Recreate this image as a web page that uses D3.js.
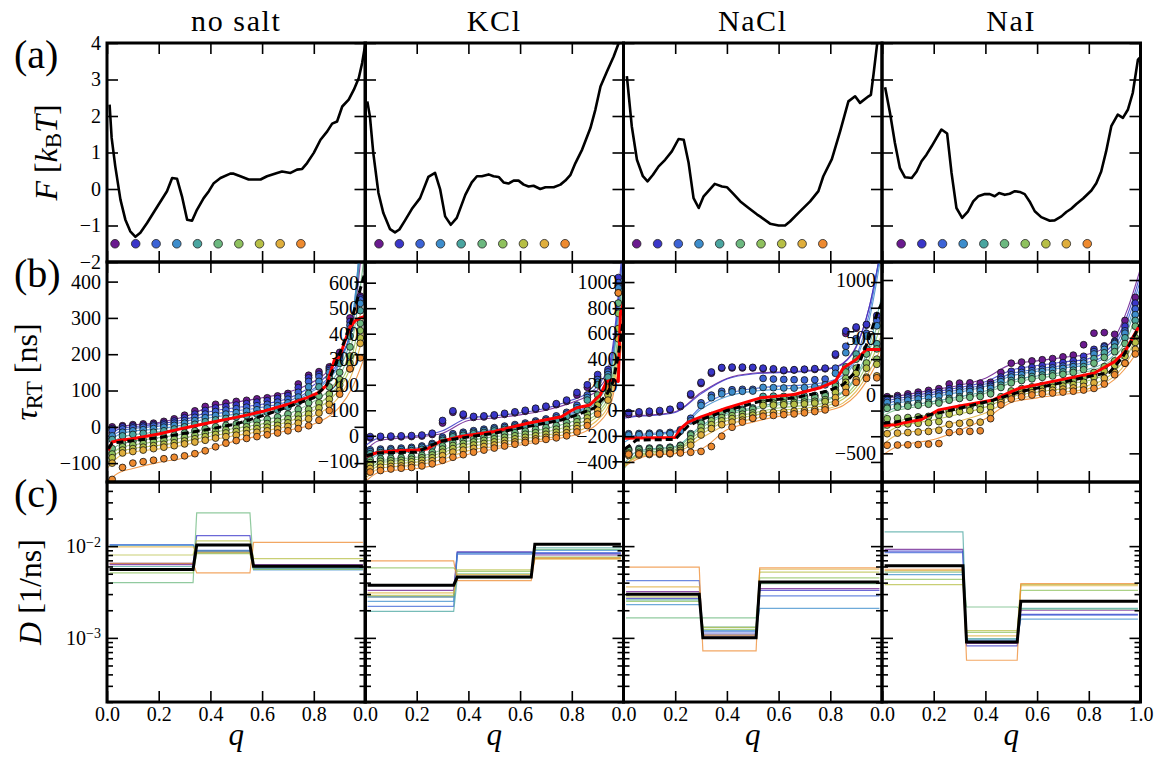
<!DOCTYPE html>
<html><head><meta charset="utf-8">
<script src="https://cdn.jsdelivr.net/npm/d3@7"></script>
<style>
body{margin:0;background:#fff;}
svg{display:block;}
svg text, svg tspan{font-family:"Liberation Serif", serif;}
</style></head><body>
<svg id="fig" width="1160" height="760"></svg>
<script>
// ---------- categories and colours ----------
const saltNames = ["no salt", "KCl", "NaCl", "NaI"];
const seriesColors = ["#6a1a8f", "#3a36c9", "#3c63d6", "#3d8dcc", "#4aa5a0",
                      "#6cb87f", "#8fc15e", "#b7bf45", "#dfae3c", "#ee8a2f"];
const qTicks = [0, 0.2, 0.4, 0.6, 0.8, 1.0];

// ---------- (a) free energy profiles F(q) [kBT] ----------
const fDomain = [-2, 4];
const fTicks = [-2, -1, 0, 1, 2, 3, 4];
const startLevel = -1.5;

const fQ_noSalt = [0.010,0.018,0.032,0.052,0.071,0.090,0.110,0.129,0.155,0.187,0.232,0.252,0.271,0.290,0.310,0.329,0.348,0.374,0.394,0.413,0.439,0.477,0.490,0.516,0.548,0.568,0.594,0.619,0.658,0.677,0.710,0.735,0.755,0.774,0.800,0.826,0.852,0.871,0.890,0.910,0.935,0.955,0.974,0.987,1.000];
const fV_noSalt = [2.31,1.40,0.62,-0.29,-0.84,-1.16,-1.31,-1.20,-0.93,-0.57,-0.06,0.30,0.28,-0.20,-0.84,-0.87,-0.57,-0.25,-0.06,0.16,0.30,0.42,0.42,0.35,0.26,0.26,0.26,0.35,0.44,0.48,0.44,0.53,0.55,0.71,0.99,1.35,1.58,1.79,1.85,2.26,2.45,2.72,3.04,3.45,4.00];

const fQ_KCl = [0.009,0.019,0.032,0.052,0.071,0.097,0.116,0.133,0.155,0.181,0.213,0.245,0.271,0.291,0.310,0.332,0.355,0.388,0.413,0.433,0.452,0.478,0.497,0.517,0.536,0.555,0.575,0.594,0.614,0.633,0.652,0.678,0.698,0.730,0.756,0.775,0.795,0.814,0.840,0.872,0.891,0.911,0.936,0.962,0.979,0.990];
const fV_KCl = [2.40,1.99,0.99,-0.11,-0.66,-1.10,-1.19,-1.11,-0.86,-0.55,-0.25,0.33,0.44,-0.02,-0.75,-0.98,-0.79,-0.16,0.18,0.35,0.35,0.40,0.35,0.33,0.18,0.15,0.23,0.23,0.12,0.07,0.09,0.00,0.05,0.05,0.12,0.23,0.39,0.71,1.08,1.67,2.17,2.81,3.22,3.63,3.95,4.20];

const fQ_NaCl = [0.013,0.032,0.052,0.075,0.093,0.114,0.136,0.161,0.187,0.213,0.233,0.252,0.271,0.291,0.310,0.329,0.353,0.381,0.400,0.426,0.452,0.484,0.517,0.528,0.567,0.600,0.625,0.644,0.676,0.722,0.754,0.773,0.806,0.838,0.870,0.896,0.915,0.948,0.957,0.967,0.985];
const fV_NaCl = [3.09,1.72,0.80,0.35,0.21,0.39,0.62,0.80,1.03,1.37,1.35,0.71,-0.25,-0.52,-0.20,-0.05,0.14,0.07,0.05,-0.14,-0.34,-0.52,-0.70,-0.75,-0.95,-1.00,-1.00,-0.89,-0.66,-0.34,-0.06,0.35,0.82,1.58,2.40,2.54,2.36,2.54,2.58,3.13,4.20];

const fQ_NaI = [0.012,0.031,0.050,0.069,0.089,0.115,0.134,0.153,0.172,0.192,0.211,0.230,0.252,0.269,0.288,0.310,0.333,0.353,0.372,0.398,0.417,0.436,0.453,0.475,0.494,0.514,0.533,0.552,0.571,0.591,0.616,0.649,0.668,0.694,0.713,0.732,0.752,0.778,0.810,0.829,0.848,0.867,0.887,0.912,0.932,0.951,0.970,0.990,0.996];
const fV_NaI = [2.79,2.08,1.26,0.58,0.32,0.30,0.48,0.76,0.94,1.17,1.40,1.63,1.52,0.44,-0.52,-0.79,-0.61,-0.34,-0.20,-0.14,-0.14,-0.20,-0.11,-0.16,-0.13,-0.06,-0.08,-0.14,-0.34,-0.61,-0.77,-0.87,-0.86,-0.75,-0.63,-0.54,-0.41,-0.26,-0.04,0.16,0.48,1.03,1.72,2.04,1.95,2.17,2.63,3.54,3.59];

// starting positions of the ten runs
const start_noSalt = [0.031,0.111,0.190,0.270,0.350,0.430,0.510,0.590,0.670,0.750];
const start_KCl    = [0.054,0.133,0.213,0.292,0.372,0.453,0.533,0.613,0.694,0.774];
const start_NaCl   = [0.051,0.132,0.212,0.292,0.372,0.452,0.532,0.612,0.691,0.771];
const start_NaI    = [0.074,0.154,0.234,0.314,0.394,0.474,0.554,0.634,0.713,0.794];

// ---------- (b) round-trip times tau_RT [ns] ----------
const tauQ = [0.02,0.06,0.10,0.14,0.18,0.22,0.26,0.30,0.34,0.38,0.42,0.46,0.50,0.54,0.58,0.62,0.66,0.70,0.74,0.78,0.82,0.86,0.90,0.94,0.98];
const fitQ = [0,0.05,0.1,0.2,0.3,0.4,0.5,0.6,0.7,0.8,0.85,0.9,0.95,1.0];

const tauDomain_noSalt = [-152, 454];
const tauTicks_noSalt = [-100, 0, 100, 200, 300, 400];
const tau_noSalt = [
 [0,3,6,8,10,15,22,32,44,56,62,66,70,73,77,80,85,92,118,142,152,165,205,300,360],
 [-5,0,2,4,6,10,16,25,35,45,52,56,60,64,68,72,78,86,108,135,145,160,195,290,355],
 [-10,-6,-3,-1,2,5,10,17,26,35,42,46,50,54,58,62,68,76,95,125,138,155,190,280,350],
 [-25,-15,-11,-8,-5,-1,4,10,17,25,31,35,39,43,47,52,58,66,82,110,125,150,185,270,340],
 [-35,-25,-21,-18,-15,-11,-6,0,7,14,19,23,27,31,35,40,46,54,68,92,110,135,175,250,320],
 [-60,-45,-40,-36,-32,-28,-23,-17,-11,-5,0,4,8,12,16,21,27,35,48,66,85,110,150,220,285],
 [-75,-55,-50,-46,-42,-38,-34,-29,-23,-17,-12,-8,-4,0,4,9,15,22,33,48,66,90,130,195,265],
 [-85,-64,-60,-56,-52,-48,-44,-39,-33,-27,-21,-17,-13,-9,-5,-1,4,11,21,35,52,76,115,175,245],
 [-100,-72,-68,-64,-60,-56,-52,-47,-42,-37,-31,-27,-23,-19,-15,-11,-6,1,10,22,38,62,100,160,230],
 [-145,-112,-100,-96,-92,-88,-84,-80,-74,-66,-55,-45,-38,-32,-27,-22,-17,-11,-5,3,18,45,90,160,190]
];
const fit_noSalt = [
 [-20,0,5,12,28,55,68,80,95,125,150,190,280,600],
 [-30,-5,0,8,20,42,53,62,78,115,140,185,290,650],
 [-35,-12,-5,2,14,33,44,54,70,105,130,180,300,700],
 [-45,-20,-12,-6,6,25,35,45,62,100,125,175,300,700],
 [-55,-30,-22,-14,-3,13,24,35,52,90,115,160,280,650],
 [-75,-48,-40,-30,-19,-4,7,18,35,70,95,140,240,500],
 [-90,-58,-50,-40,-30,-16,-4,8,24,55,80,120,200,400],
 [-100,-68,-60,-51,-40,-26,-14,-2,14,45,68,105,180,330],
 [-115,-80,-70,-61,-50,-36,-24,-12,2,30,50,85,150,280],
 [-150,-125,-115,-98,-85,-60,-38,-24,-10,8,25,55,110,200]
];
const redQ_noSalt = [0.005,0.02,0.05,0.1,0.2,0.3,0.4,0.5,0.6,0.7,0.78,0.82,0.85,0.86,0.88,0.9,0.92,0.94,0.96,0.98,1.0];
const redV_noSalt = [-65,-42,-37,-33,-20,-3,12,26,42,62,82,95,115,140,185,192,235,275,292,300,305];
const dashQ_noSalt = [0.005,0.02,0.1,0.2,0.3,0.4,0.5,0.6,0.7,0.8,0.85,0.88,0.91,0.94,0.96,0.98,1.0];
const dashV_noSalt = [-60,-45,-38,-30,-18,-6,8,30,55,80,115,165,220,280,330,380,430];

const tauDomain_KCl = [-181, 681];
const tauTicks_KCl = [-100, 0, 100, 200, 300, 400, 500, 600];
const tau_KCl = [
 [-8,-6,-5,-4,-3,-1,5,50,92,80,72,74,78,84,90,96,104,112,122,135,160,190,230,250,590],
 [-3,-2,-1,0,1,3,10,60,98,85,76,78,82,88,94,100,108,116,126,140,170,200,240,260,620],
 [-55,-52,-50,-48,-45,-40,-30,-5,8,14,20,26,32,38,44,50,58,66,78,92,120,160,220,250,600],
 [-62,-58,-56,-54,-50,-45,-35,-12,2,8,14,20,26,32,38,44,52,60,70,85,110,150,210,240,580],
 [-70,-66,-64,-62,-58,-53,-42,-18,-4,2,8,13,19,25,31,38,45,52,62,76,100,140,200,230,560],
 [-95,-90,-88,-86,-82,-76,-64,-40,-26,-18,-12,-6,0,6,12,18,25,32,40,52,70,100,160,200,520],
 [-105,-100,-98,-96,-92,-86,-75,-52,-38,-30,-24,-18,-12,-6,0,6,12,18,26,38,55,85,140,180,480],
 [-115,-110,-108,-106,-102,-96,-86,-64,-50,-42,-36,-30,-24,-18,-12,-6,0,6,14,25,40,70,120,160,420],
 [-128,-123,-120,-118,-114,-108,-98,-78,-64,-56,-49,-42,-36,-30,-24,-18,-12,-6,2,12,28,55,100,140,380],
 [-142,-136,-130,-127,-124,-118,-110,-96,-84,-74,-64,-56,-48,-40,-33,-26,-20,-14,-8,0,15,40,85,190,560]
];
const fit_KCl = [
 [-60,-20,-12,-5,10,60,70,82,100,130,150,180,280,750],
 [-40,-10,-5,0,20,70,78,90,108,140,160,195,300,800],
 [-90,-60,-55,-48,-20,10,25,40,60,90,110,150,260,750],
 [-100,-68,-60,-52,-25,6,20,35,55,85,105,145,250,700],
 [-110,-75,-68,-60,-30,2,17,30,50,80,100,138,240,650],
 [-140,-100,-92,-84,-55,-20,-4,10,28,55,72,105,200,600],
 [-150,-108,-100,-93,-66,-32,-16,-2,15,40,58,90,180,550],
 [-160,-118,-110,-103,-78,-44,-28,-14,2,26,45,78,160,500],
 [-170,-130,-122,-115,-92,-58,-42,-28,-10,12,30,62,140,450],
 [-181,-145,-137,-128,-108,-72,-52,-36,-18,0,16,48,120,400]
];
const redQ_KCl = [0.005,0.05,0.11,0.2,0.24,0.29,0.37,0.5,0.63,0.76,0.8,0.82,0.87,0.91,0.935,0.96,0.98,0.988,1.0];
const redV_KCl = [-80,-65,-60,-56,-52,-22,-3,17,49,75,100,110,121,160,213,219,213,480,520];
const dashQ_KCl = [0.005,0.05,0.2,0.29,0.37,0.5,0.63,0.76,0.82,0.885,0.935,0.96,0.98,1.0];
const dashV_KCl = [-78,-67,-64,-22,-9,10,36,62,82,108,160,213,317,460];

const tauDomain_NaCl = [-556, 1156];
const tauTicks_NaCl = [-400, -200, 0, 200, 400, 600, 800, 1000];
const tau_NaCl = [
 [-30,-25,-20,-10,5,30,120,210,290,330,332,332,332,325,320,310,315,318,320,325,430,600,640,665,720],
 [-15,-10,-5,0,10,40,130,220,300,335,338,338,336,330,325,315,318,322,326,330,440,620,650,670,740],
 [-180,-178,-176,-174,-170,-150,-60,60,120,150,162,165,165,250,245,242,240,238,240,245,330,500,560,600,700],
 [-190,-188,-186,-184,-180,-160,-80,40,100,130,145,150,152,180,178,176,175,178,185,200,290,450,540,580,660],
 [-300,-295,-292,-290,-285,-270,-180,-90,-40,-15,0,10,20,110,112,110,108,112,118,130,210,340,440,480,520],
 [-310,-305,-300,-298,-292,-275,-190,-100,-50,-25,-10,0,10,85,88,90,92,96,102,115,190,300,400,440,480],
 [-330,-325,-320,-318,-312,-295,-220,-130,-80,-55,-40,-28,-18,55,58,60,62,66,72,85,160,250,330,370,400],
 [-340,-336,-332,-330,-325,-310,-245,-160,-110,-80,-62,-48,-36,40,42,45,48,52,58,70,140,220,290,330,360],
 [-350,-346,-342,-340,-336,-325,-270,-190,-140,-110,-90,-74,-60,-20,-15,-10,-5,0,8,25,100,180,240,260,270],
 [-340,-338,-336,-335,-333,-330,-325,-318,-280,-200,-130,-90,-60,-44,-38,-32,-26,-18,-8,5,60,140,220,250,255]
];
const fit_NaCl = [
 [-50,-40,-35,-10,140,250,290,300,310,330,370,500,800,1300],
 [-60,-45,-40,-15,130,245,285,295,305,325,365,490,800,1300],
 [-220,-190,-180,-160,30,130,170,190,200,230,280,420,750,1300],
 [-250,-200,-190,-170,10,110,150,165,180,210,260,400,700,1250],
 [-420,-320,-300,-280,-120,-20,20,60,80,100,150,270,500,900],
 [-460,-340,-310,-290,-135,-35,8,45,65,90,140,250,460,800],
 [-440,-350,-325,-305,-160,-60,-20,20,40,65,110,210,400,700],
 [-430,-360,-335,-315,-185,-80,-40,0,20,45,90,180,350,600],
 [-420,-370,-345,-330,-215,-110,-65,-25,-5,20,60,150,300,500],
 [-440,-380,-350,-335,-300,-150,-90,-45,-20,5,40,120,260,450]
];
const redQ_NaCl = [0.005,0.05,0.15,0.2,0.22,0.25,0.3,0.4,0.53,0.66,0.76,0.82,0.85,0.9,0.94,1.0];
const redV_NaCl = [-215,-213,-212,-210,-140,-90,-50,20,99,125,177,228,332,397,475,475];
const dashQ_NaCl = [0.005,0.05,0.2,0.22,0.25,0.3,0.4,0.53,0.66,0.79,0.85,0.9,0.95,0.98,1.0];
const dashV_NaCl = [-300,-230,-225,-180,-120,-70,0,73,99,151,203,306,565,750,838];

const tauDomain_NaI = [-748, 1156];
const tauTicks_NaI = [-500, 0, 500, 1000];
const tau_NaI = [
 [-10,0,15,30,45,60,100,108,110,108,115,200,280,290,300,310,320,335,350,440,540,545,530,650,850],
 [-25,-15,-5,8,22,35,60,70,72,72,95,160,210,230,245,258,270,285,300,340,400,430,470,600,800],
 [-40,-30,-20,-8,5,18,40,50,55,58,80,140,180,200,215,228,240,255,270,300,380,420,460,560,750],
 [-60,-50,-40,-30,-18,-5,15,30,35,40,62,120,160,180,195,208,220,235,250,280,360,400,450,540,700],
 [-100,-90,-80,-70,-60,-48,-25,-10,0,8,30,90,130,150,165,178,190,205,220,250,320,370,420,500,650],
 [-110,-100,-92,-84,-75,-65,-40,-25,-15,-8,15,70,110,130,145,158,170,184,200,225,280,330,380,450,600],
 [-200,-195,-190,-185,-180,-170,-130,-110,-100,-92,-70,-10,40,60,75,88,100,112,125,150,200,250,300,380,500],
 [-255,-250,-245,-240,-235,-225,-160,-140,-130,-122,-100,-40,10,30,45,58,70,82,95,115,160,210,260,340,460],
 [-330,-325,-320,-315,-310,-300,-250,-240,-235,-230,-150,-60,-10,10,25,36,46,56,66,80,110,150,200,280,400],
 [-430,-428,-426,-424,-420,-415,-320,-312,-310,-305,-200,-80,-30,-10,5,15,22,30,38,48,62,100,180,280,360]
];
const fit_NaI = [
 [-40,-10,10,50,90,150,270,300,330,360,400,500,750,1100],
 [-60,-30,-10,30,70,120,220,260,290,320,360,460,700,1050],
 [-80,-50,-30,10,50,100,190,230,260,290,330,430,650,1000],
 [-110,-70,-50,-10,30,80,170,210,240,270,310,400,600,950],
 [-150,-110,-90,-50,-10,40,130,170,200,230,270,360,560,900],
 [-180,-130,-110,-70,-30,20,110,150,180,210,250,330,500,800],
 [-300,-230,-200,-160,-120,-60,30,70,100,130,170,250,400,650],
 [-350,-280,-250,-210,-160,-100,-10,30,60,90,130,210,350,600],
 [-430,-350,-320,-290,-220,-150,-40,0,30,60,100,170,300,500],
 [-520,-450,-420,-380,-300,-200,-60,-20,10,40,70,140,260,420]
];
const redQ_NaI = [0.005,0.05,0.11,0.15,0.22,0.3,0.43,0.53,0.6,0.69,0.82,0.9,0.94,0.99,1.0];
const redV_NaI = [-260,-253,-225,-210,-124,-90,-38,63,95,136,193,294,381,583,600];
const dashQ_NaI = [0.005,0.05,0.22,0.3,0.43,0.53,0.69,0.82,0.88,0.93,0.96,1.0];
const dashV_NaI = [-240,-230,-150,-110,-40,30,110,175,200,330,450,620];

// ---------- (c) position-dependent diffusivity D [1/ns] ----------
const dDomain = [2e-4, 5e-2];
const dTicks = [1e-3, 1e-2];
const dMinorTicks = [2e-4,3e-4,4e-4,5e-4,6e-4,7e-4,8e-4,9e-4,2e-3,3e-3,4e-3,5e-3,6e-3,7e-3,8e-3,9e-3,2e-2,3e-2,4e-2];
const dRange = [0.01, 0.99];

const dBreaks_noSalt = [0.34, 0.56];
const dSeg_noSalt = [
 [6.3e-3,8.8e-3,6.3e-3],[6.5e-3,1.3e-2,5.9e-3],[1.04e-2,9.0e-3,5.7e-3],[1.02e-2,8.5e-3,5.5e-3],[6.0e-3,8.8e-3,5.8e-3],
 [4.0e-3,2.3e-2,5.6e-3],[5.1e-3,8.3e-3,5.6e-3],[8.0e-3,1.14e-2,7.3e-3],[9.8e-3,8.5e-3,6.0e-3],[6.5e-3,5.1e-3,1.1e-2]
];
const dMean_noSalt = [5.56e-3, 1.03e-2, 6.04e-3];

const dBreaks_KCl = [0.35, 0.65];
const dSeg_KCl = [
 [3.3e-3,8.6e-3,8.0e-3],[2.8e-3,8.6e-3,8.3e-3],[2.2e-3,8.2e-3,8.5e-3],[2.5e-3,8.4e-3,9.0e-3],[1.94e-3,4.5e-3,9.6e-3],
 [2.8e-3,5.0e-3,9.2e-3],[5.8e-3,5.3e-3,7.6e-3],[2.9e-3,5.5e-3,7.4e-3],[3.1e-3,4.9e-3,7.2e-3],[6.9e-3,4.2e-3,7.4e-3]
];
const dMean_KCl = [3.75e-3, 4.6e-3, 1.05e-2];

const dBreaks_NaCl = [0.30, 0.52];
const dSeg_NaCl = [
 [3.2e-3,1.05e-3,3.45e-3],[2.7e-3,1.1e-3,3.3e-3],[4.2e-3,1.16e-3,2.87e-3],[2.3e-3,1.2e-3,2.1e-3],[2.6e-3,1.31e-3,4.0e-3],
 [1.65e-3,1.65e-3,3.9e-3],[2.5e-3,1.24e-3,4.5e-3],[2.8e-3,1.3e-3,5.2e-3],[3.6e-3,1.07e-3,5.6e-3],[5.9e-3,7.2e-4,5.8e-3]
];
const dMean_NaCl = [2.98e-3, 1.0e-3, 4.07e-3];

const dBreaks_NaI = [0.32, 0.53];
const dSeg_NaI = [
 [9.2e-3,8.7e-4,2.0e-3],[8.8e-3,8.2e-4,1.8e-3],[8.5e-3,9.2e-4,1.77e-3],[4.9e-3,9.5e-4,1.6e-3],[1.43e-2,9.8e-4,2.1e-3],
 [5.2e-3,2.17e-3,2.05e-3],[4.35e-3,1.15e-3,3.3e-3],[3.8e-3,1.2e-3,3.8e-3],[5.4e-3,1.05e-3,3.7e-3],[5.6e-3,5.7e-4,3.9e-3]
];
const dMean_NaI = [6.1e-3, 9.0e-4, 2.5e-3];

// ---------- layout ----------
const colX = [107, 365, 623.5, 882], colW = 258.5;
const rowY = [43, 262, 482], rowH = [219, 220, 220];
const TICK = 11, MINOR_TICK = 6, STEP_HALF = 0.007;

const salts = [
  {fQ: fQ_noSalt, fV: fV_noSalt, start: start_noSalt, tauDomain: tauDomain_noSalt, tauTicks: tauTicks_noSalt, tau: tau_noSalt, fit: fit_noSalt,
   redQ: redQ_noSalt, redV: redV_noSalt, dashQ: dashQ_noSalt, dashV: dashV_noSalt, breaks: dBreaks_noSalt, seg: dSeg_noSalt, mean: dMean_noSalt},
  {fQ: fQ_KCl, fV: fV_KCl, start: start_KCl, tauDomain: tauDomain_KCl, tauTicks: tauTicks_KCl, tau: tau_KCl, fit: fit_KCl,
   redQ: redQ_KCl, redV: redV_KCl, dashQ: dashQ_KCl, dashV: dashV_KCl, breaks: dBreaks_KCl, seg: dSeg_KCl, mean: dMean_KCl},
  {fQ: fQ_NaCl, fV: fV_NaCl, start: start_NaCl, tauDomain: tauDomain_NaCl, tauTicks: tauTicks_NaCl, tau: tau_NaCl, fit: fit_NaCl,
   redQ: redQ_NaCl, redV: redV_NaCl, dashQ: dashQ_NaCl, dashV: dashV_NaCl, breaks: dBreaks_NaCl, seg: dSeg_NaCl, mean: dMean_NaCl},
  {fQ: fQ_NaI, fV: fV_NaI, start: start_NaI, tauDomain: tauDomain_NaI, tauTicks: tauTicks_NaI, tau: tau_NaI, fit: fit_NaI,
   redQ: redQ_NaI, redV: redV_NaI, dashQ: dashQ_NaI, dashV: dashV_NaI, breaks: dBreaks_NaI, seg: dSeg_NaI, mean: dMean_NaI}
];

const svg = d3.select("#fig");
const defs = svg.append("defs");

function plotArea(c, r) {
  const id = `clip-${r}-${c}`;
  defs.append("clipPath").attr("id", id).append("rect")
    .attr("x", colX[c]).attr("y", rowY[r]).attr("width", colW).attr("height", rowH[r]);
  return svg.append("g").attr("clip-path", `url(#${id})`);
}

function drawAxes(c, r, x, y, opt) {
  const g = svg.append("g");
  const x0 = colX[c], y0 = rowY[r], h = rowH[r];
  const none = () => "";
  const qFmt = d3.format(".1f");
  const bottomFmt = opt.xLabels ? (d => (d === 1 && c < 3) ? "" : qFmt(d)) : none;
  g.append("g").attr("transform", `translate(0,${y0 + h})`)
    .call(d3.axisBottom(x).tickValues(qTicks).tickSize(-TICK).tickPadding(5).tickFormat(bottomFmt));
  g.append("g").attr("transform", `translate(0,${y0})`)
    .call(d3.axisTop(x).tickValues(qTicks).tickSize(-TICK).tickFormat(none));
  const left = g.append("g").attr("transform", `translate(${x0},0)`)
    .call(d3.axisLeft(y).tickValues(opt.yTicks).tickSize(-TICK).tickPadding(6)
      .tickFormat(opt.yLabels ? opt.yFormat : none));
  g.append("g").attr("transform", `translate(${x0 + colW},0)`)
    .call(d3.axisRight(y).tickValues(opt.yTicks).tickSize(-TICK).tickFormat(none));
  if (opt.minor) {
    g.append("g").attr("transform", `translate(${x0},0)`)
      .call(d3.axisLeft(y).tickValues(opt.minor).tickSize(-MINOR_TICK).tickFormat(none));
    g.append("g").attr("transform", `translate(${x0 + colW},0)`)
      .call(d3.axisRight(y).tickValues(opt.minor).tickSize(-MINOR_TICK).tickFormat(none));
  }
  g.selectAll(".domain").remove();
  g.selectAll("g").attr("font-family", null).attr("font-size", 20);
  g.selectAll(".tick line").attr("stroke", "#000").attr("stroke-width", 1.6);
  g.selectAll(".tick text").attr("fill", "#000");
  if (opt.power && opt.yLabels) {
    left.selectAll(".tick text").each(function (d) {
      const t = d3.select(this);
      t.text("10");
      t.append("tspan").attr("dy", "-0.45em").attr("font-size", 14)
        .text(d3.format("d")(Math.round(Math.log10(d))));
    });
  }
  g.append("rect").attr("x", x0).attr("y", y0).attr("width", colW).attr("height", h)
    .attr("fill", "none").attr("stroke", "#000").attr("stroke-width", 3);
}

function label(x, y, txt, size) {
  return svg.append("text").attr("x", x).attr("y", y)
    .attr("font-size", size).attr("fill", "#000").text(txt);
}

salts.forEach((s, c) => {
  const x = d3.scaleLinear([0, 1], [colX[c], colX[c] + colW]);

  // (a) free energy
  const yF = d3.scaleLinear(fDomain, [rowY[0] + rowH[0], rowY[0]]);
  const ga = plotArea(c, 0);
  ga.append("path").datum(d3.zip(s.fQ, s.fV))
    .attr("d", d3.line().x(d => x(d[0])).y(d => yF(d[1])))
    .attr("fill", "none").attr("stroke", "#000").attr("stroke-width", 2.6).attr("stroke-linejoin", "round");
  ga.selectAll("circle").data(s.start).join("circle")
    .attr("cx", d => x(d)).attr("cy", yF(startLevel)).attr("r", 4.3)
    .attr("fill", (d, i) => seriesColors[i]).attr("stroke", "#222").attr("stroke-width", 0.8);
  drawAxes(c, 0, x, yF, {yTicks: fTicks, yLabels: c === 0, yFormat: d3.format("d"), xLabels: false});

  // (b) round-trip times
  const yT = d3.scaleLinear(s.tauDomain, [rowY[1] + rowH[1], rowY[1]]);
  const gb = plotArea(c, 1);
  const fitLine = d3.line().x(d => x(d[0])).y(d => yT(d[1])).curve(d3.curveMonotoneX);
  s.fit.forEach((vals, i) => {
    gb.append("path").datum(d3.zip(fitQ, vals)).attr("d", fitLine)
      .attr("fill", "none").attr("stroke", seriesColors[i]).attr("stroke-width", 1.1).attr("opacity", 0.85);
  });
  s.tau.forEach((vals, i) => {
    gb.append("g").selectAll("circle").data(d3.zip(tauQ, vals)).join("circle")
      .attr("cx", d => x(d[0])).attr("cy", d => yT(d[1])).attr("r", 3.4)
      .attr("fill", seriesColors[i]).attr("stroke", "#111").attr("stroke-width", 0.8);
  });
  const meanLine = d3.line().x(d => x(d[0])).y(d => yT(d[1]));
  gb.append("path").datum(d3.zip(s.redQ, s.redV)).attr("d", meanLine)
    .attr("fill", "none").attr("stroke", "#ff0000").attr("stroke-width", 3).attr("stroke-linejoin", "round");
  gb.append("path").datum(d3.zip(s.dashQ, s.dashV)).attr("d", meanLine)
    .attr("fill", "none").attr("stroke", "#000").attr("stroke-width", 3).attr("stroke-dasharray", "7,4");
  drawAxes(c, 1, x, yT, {yTicks: s.tauTicks, yLabels: true, yFormat: d3.format("d"), xLabels: false});

  // (c) diffusivity, piecewise constant in three regions
  const yD = d3.scaleLog(dDomain, [rowY[2] + rowH[2], rowY[2]]);
  const gc = plotArea(c, 2);
  const [b1, b2] = s.breaks;
  const stepPts = v => [[dRange[0], v[0]], [b1 - STEP_HALF, v[0]], [b1 + STEP_HALF, v[1]],
                        [b2 - STEP_HALF, v[1]], [b2 + STEP_HALF, v[2]], [dRange[1], v[2]]];
  const stepLine = d3.line().x(d => x(d[0])).y(d => yD(d[1]));
  s.seg.forEach((v, i) => {
    gc.append("path").datum(stepPts(v)).attr("d", stepLine)
      .attr("fill", "none").attr("stroke", seriesColors[i]).attr("stroke-width", 1.2).attr("opacity", 0.75);
  });
  gc.append("path").datum(stepPts(s.mean)).attr("d", stepLine)
    .attr("fill", "none").attr("stroke", "#000").attr("stroke-width", 3);
  drawAxes(c, 2, x, yD, {yTicks: dTicks, minor: dMinorTicks, yLabels: c === 0, power: true, xLabels: true});

  // column title and x label
  const cx = colX[c] + colW / 2;
  label(cx, 31, saltNames[c], 30).attr("text-anchor", "middle").attr("letter-spacing", 1.6);
  label(cx, 745, "q", 31).attr("text-anchor", "middle").attr("font-style", "italic");
});

// panel letters
["(a)", "(b)", "(c)"].forEach((t, r) => label(14, rowY[r] + 25, t, 40));

// rotated axis titles
function yTitle(cx, cy, parts) {
  const t = svg.append("text").attr("transform", `translate(${cx},${cy}) rotate(-90)`)
    .attr("text-anchor", "middle").attr("dominant-baseline", "central").attr("font-size", 32);
  parts.forEach(p => {
    const s = t.append("tspan").text(p.t);
    if (p.i) s.attr("font-style", "italic");
    if (p.dy) s.attr("dy", p.dy);
    if (p.fs) s.attr("font-size", p.fs);
  });
}
yTitle(46, 152.5, [{t: "F", i: true}, {t: " ["}, {t: "k", i: true}, {t: "B", dy: 7, fs: 23}, {t: "T", i: true, dy: -7}, {t: "]"}]);
yTitle(26, 372, [{t: "τ", i: true}, {t: "RT", dy: 8, fs: 23}, {t: " [ns]", dy: -8}]);
yTitle(30, 592, [{t: "D", i: true}, {t: " [1/ns]"}]);
</script></body></html>
